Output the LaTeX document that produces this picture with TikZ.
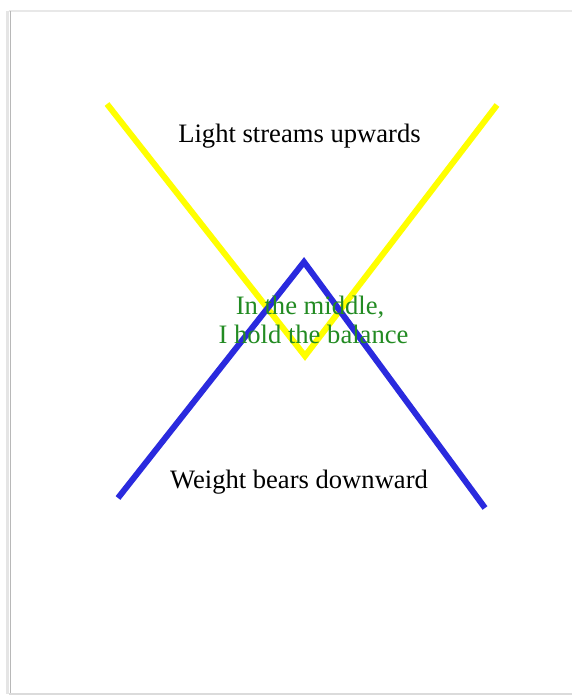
\documentclass[tikz,border=0pt]{standalone}
\usepackage{fontspec}
\setmainfont{Liberation Serif}
\definecolor{lightyellow}{RGB}{255,255,0}
\definecolor{weightblue}{RGB}{42,42,222}
\definecolor{midgreen}{RGB}{34,139,34}
\tikzset{
  label/.style={font=\fontsize{26.6}{30}\selectfont, inner sep=0pt, anchor=base},
  lightline/.style={draw=lightyellow, line width=6pt, line join=miter},
  weightline/.style={draw=weightblue, line width=6pt, line join=miter},
}
\begin{document}
\begin{tikzpicture}[x=1pt,y=1pt]
\useasboundingbox (0,0) rectangle (572,696);
\fill[white] (0,0) rectangle (572,696);
% page frame
\draw[line width=1.6pt, black!9] (9,685.2) -- (572,685.2);
\draw[line width=2.2pt, black!10] (7.5,685) -- (7.5,1.5);
\draw[line width=1.6pt, black!28] (10.3,685) -- (10.3,1.5);
\draw[line width=1.6pt, black!14] (9,2.2) -- (572,2.2);
% lines
\coordinate (yl) at (107,592);
\coordinate (yb) at (305,340);
\coordinate (yr) at (497,591);
\coordinate (bl) at (118,198);
\coordinate (bt) at (304,434);
\coordinate (br) at (485,188);
\draw[lightline] (yl) -- (yb) -- (yr);
\draw[weightline] (bl) -- (bt) -- (br);
% texts
\node[label] (light) at (299.5,553) {Light streams upwards};
\node[label] (weight) at (299,207) {Weight bears downward};
\node[label, text=midgreen] (mid1) at (310,381) {In the middle,};
\node[label, text=midgreen] (mid2) at (313.5,352) {I hold the balance};
\end{tikzpicture}
\end{document}
